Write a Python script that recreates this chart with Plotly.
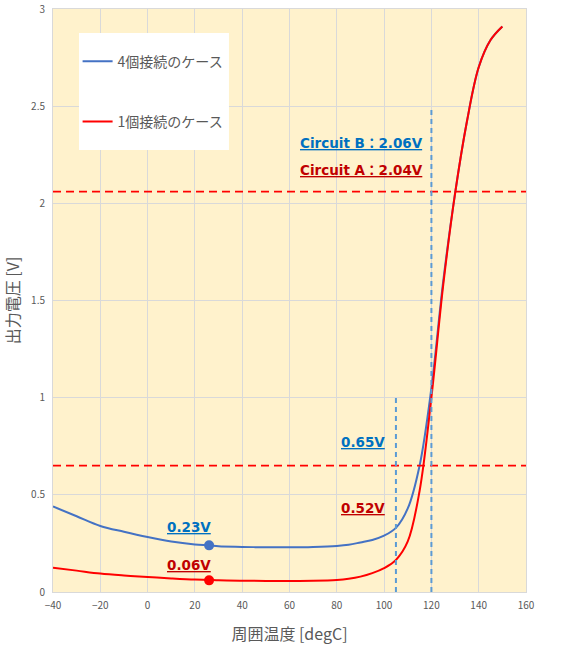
import plotly.graph_objects as go

temps = [-40, -30, -20, -10, 0, 10, 20, 26, 30, 40, 50, 60, 70, 80, 85, 90, 95,
         100, 105, 110, 115, 120, 125, 130, 135, 140, 145, 150]
v_four = [0.44, 0.39, 0.34, 0.31, 0.283, 0.26, 0.245, 0.24, 0.235, 0.232, 0.23, 0.23,
          0.232, 0.237, 0.243, 0.255, 0.268, 0.29, 0.33, 0.43, 0.65, 1.05, 1.6, 2.05,
          2.42, 2.7, 2.84, 2.91]
v_one = [0.125, 0.11, 0.095, 0.085, 0.077, 0.07, 0.064, 0.062, 0.06, 0.058, 0.057,
         0.057, 0.058, 0.062, 0.068, 0.079, 0.097, 0.123, 0.165, 0.26, 0.52, 1.0, 1.58,
         2.05, 2.42, 2.7, 2.84, 2.91]
names = ["4個接続のケース", "1個接続のケース"]
marker_temp = 26
marker_v = [0.24, 0.06]
thresholds = [2.06, 0.65]
vlines = [(120, 2.5), (105, 1.0)]
x_ticks = [-40, -20, 0, 20, 40, 60, 80, 100, 120, 140, 160]
y_ticks = [0, 0.5, 1, 1.5, 2, 2.5, 3]
y_tick_text = ["0", "0.5", "1", "1.5", "2", "2.5", "3"]

BLUE = "#4472C4"
RED = "#FF0000"
TXT_BLUE = "#0070C0"
TXT_RED = "#C00000"
GREY = "#595959"
JP = "Noto Sans CJK JP, Noto Sans, sans-serif"
LBL = "DejaVu Sans, Noto Sans CJK JP, sans-serif"

fig = go.Figure()
fig.add_trace(go.Scatter(x=temps, y=v_four, mode="lines", name=names[0],
                         line=dict(color=BLUE, width=2, shape="spline"),
                         legendgroup="a"))
fig.add_trace(go.Scatter(x=temps, y=v_one, mode="lines", name=names[1],
                         line=dict(color=RED, width=2, shape="spline"),
                         legendgroup="b"))
fig.add_trace(go.Scatter(x=[marker_temp], y=[marker_v[0]], mode="markers",
                         marker=dict(color=BLUE, size=10), showlegend=False))
fig.add_trace(go.Scatter(x=[marker_temp], y=[marker_v[1]], mode="markers",
                         marker=dict(color=RED, size=10), showlegend=False))

for t in thresholds:
    fig.add_shape(type="line", x0=-40, x1=160, y0=t, y1=t, xref="x", yref="y",
                  line=dict(color=RED, width=1.8, dash="8px,5px"))
for xv, top in vlines:
    fig.add_shape(type="line", x0=xv, x1=xv, y0=0, y1=top, xref="x", yref="y",
                  line=dict(color="#5B9BD5", width=2, dash="5px,4px"))

# white legend background box
fig.add_shape(type="rect", xref="paper", yref="paper", x0=0.055, x1=0.372,
              y0=0.758, y1=0.959, fillcolor="white", line=dict(width=0), layer="above")

def lab(x, y, text, color):
    fig.add_annotation(x=x, y=y, xref="x", yref="y", xanchor="left", yanchor="middle",
                       text="<b><span style='text-decoration:underline'>" + text + "</span></b>",
                       showarrow=False, font=dict(family=LBL, size=13.5, color=color))

lab(63.6, 2.31, "Circuit B：2.06V", TXT_BLUE)
lab(63.6, 2.17, "Circuit A：2.04V", TXT_RED)
lab(7.4, 0.335, "0.23V", TXT_BLUE)
lab(7.4, 0.139, "0.06V", TXT_RED)
lab(81, 0.772, "0.65V", TXT_BLUE)
lab(81, 0.432, "0.52V", TXT_RED)

fig.update_layout(
    width=578, height=645,
    margin=dict(l=53, r=52, t=9, b=53),
    paper_bgcolor="white", plot_bgcolor="#FFF2CC",
    font=dict(family=JP, color=GREY),
    legend=dict(x=0.052, y=0.937, xanchor="left", yanchor="top",
                bgcolor="rgba(0,0,0,0)", font=dict(size=14, color=GREY, family=JP),
                tracegroupgap=39, borderwidth=0),
    xaxis=dict(range=[-40, 160], tickvals=x_ticks, showgrid=True, gridcolor="#D9D9D9",
               gridwidth=1, zeroline=False, showline=True, linecolor="#D9D9D9",
               mirror=True, ticks="", tickfont=dict(size=10, color=GREY),
               ticklabelstandoff=4, automargin=False,
               title=dict(text="周囲温度 [degC]", font=dict(size=16, color=GREY), standoff=20)),
    yaxis=dict(range=[0, 3], tickvals=y_ticks, ticktext=y_tick_text, showgrid=True,
               gridcolor="#D9D9D9", gridwidth=1, zeroline=False, showline=True,
               linecolor="#D9D9D9", mirror=True, ticks="", tickfont=dict(size=10, color=GREY),
               ticklabelstandoff=5, automargin=False,
               title=dict(text="出力電圧 [V]", font=dict(size=16, color=GREY), standoff=16)),
)

fig.write_html("out.html")
